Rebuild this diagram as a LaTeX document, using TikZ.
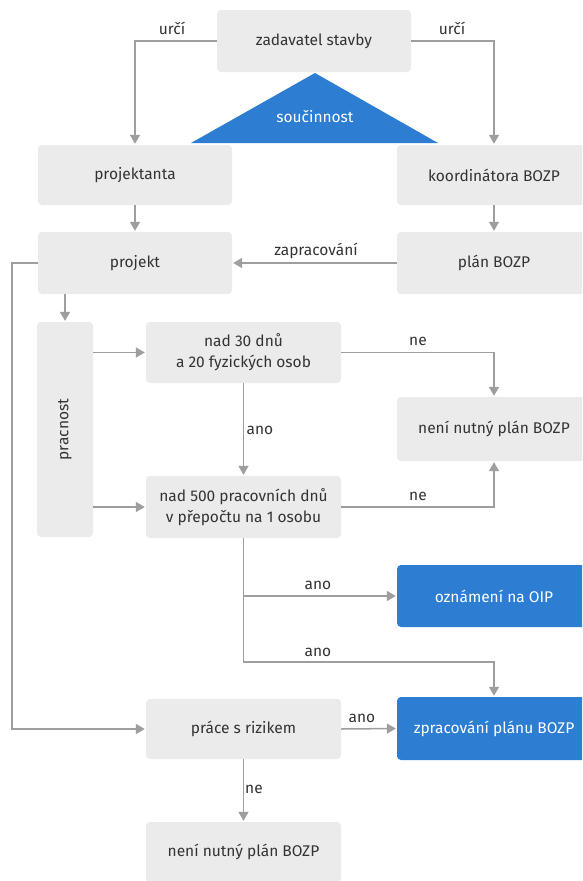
\documentclass[tikz,border=0pt]{standalone}
\usepackage{fontspec}
\setmainfont{Fira Sans}
\usetikzlibrary{arrows.meta}
\definecolor{boxgrey}{HTML}{EBEBEB}
\definecolor{blueb}{HTML}{2D7DD2}
\definecolor{lineg}{HTML}{9E9E9E}
\definecolor{txt}{HTML}{333333}
\tikzset{
  gbox/.style={fill=boxgrey, rounded corners=4pt, minimum width=194pt, text=txt, align=center, font=\fontsize{15.5}{21}\selectfont, inner sep=0pt},
  bbox/.style={gbox, fill=blueb, text=white},
  arr/.style={draw=lineg, line width=1.5pt, -{Triangle[width=10pt,length=9pt]}, shorten >=1pt},
  lbl/.style={text=txt, font=\fontsize{15.5}{18}\selectfont, inner sep=0pt}
}
\begin{document}
\begin{tikzpicture}[x=1pt,y=-1pt]
\useasboundingbox (0,0) rectangle (582,881);
\clip (0,0) rectangle (582,881);
\fill[white] (0,0) rectangle (582,881);
% nodes
\node[gbox, minimum height=62pt] (zad) at (314,41) {zadavatel stavby};
\fill[blueb] (315,73) -- (191,143) -- (438,143) -- cycle;
\node[lbl, text=white] (souc) at (315,117) {součinnost};
\node[gbox, minimum height=60pt] (proja) at (135,175) {projektanta};
\node[gbox, minimum height=60pt] (koord) at (494,175) {koordinátora BOZP};
\node[gbox, minimum height=62pt] (projekt) at (135,263) {projekt};
\node[gbox, minimum height=62pt] (plan) at (494,263) {plán BOZP};
\node[gbox, minimum width=56pt, minimum height=215pt] (prac) at (65,429.5) {};
\node[lbl, rotate=90] (pracT) at (prac.center) {pracnost};
\node[gbox, minimum height=61pt, minimum width=195pt] (n30) at (243.5,352.5) {nad 30 dnů\\a 20 fyzických osob};
\node[gbox, minimum height=64pt] (nenir) at (494,429) {není nutný plán BOZP};
\node[gbox, minimum height=62pt, minimum width=195pt] (n500) at (243.5,507) {nad 500 pracovních dnů\\v přepočtu na 1 osobu};
\node[bbox, minimum height=62pt] (ozn) at (494,596) {oznámení na OIP};
\node[bbox, minimum height=63pt] (zprac) at (494,728.5) {zpracování plánu BOZP};
\node[gbox, minimum height=60pt, minimum width=195pt] (prace) at (243.5,729) {práce s rizikem};
\node[gbox, minimum height=60pt, minimum width=195pt] (nenib) at (243.5,852) {není nutný plán BOZP};
% connectors
\coordinate (c1) at (12,263);
\coordinate (j) at (243.5,662);
\draw[arr] (zad.west) -| (proja.north);
\node[lbl] (u1) at (172,28) {určí};
\draw[arr] (zad.east) -| (koord.north);
\node[lbl] (u2) at (452,28) {určí};
\draw[arr] (proja.south) -- (projekt.north);
\draw[arr] (koord.south) -- (plan.north);
\draw[arr] (plan.west) -- (projekt.east);
\node[lbl] (zap) at (316,251) {zapracování};
\draw[arr] (projekt.west) -- (c1) |- (prace.west);
\draw[arr] (projekt.south -| prac.north) -- (prac.north);
\draw[arr] (prac.east |- n30.west) -- (n30.west);
\draw[arr] (prac.east |- n500.west) -- (n500.west);
\draw[arr] (n30.east) -| (nenir.north);
\node[lbl] (ne1) at (418,341) {ne};
\draw[arr] (n500.east) -| (nenir.south);
\node[lbl] (ne2) at (418,496) {ne};
\draw[arr] (n30.south) -- (n500.north);
\node[lbl] (a1) at (260,430) {ano};
\draw[arr] (n500.south) |- (ozn.west);
\node[lbl] (a2) at (318,585) {ano};
\draw[arr] (n500.south) -- (j) -| (zprac.north);
\node[lbl] (a3) at (318,652) {ano};
\draw[arr] (prace.east) -- (zprac.west);
\node[lbl] (a4) at (362,718) {ano};
\draw[arr] (prace.south) -- (nenib.north);
\node[lbl] (ne3) at (254,789) {ne};
\end{tikzpicture}
\end{document}
